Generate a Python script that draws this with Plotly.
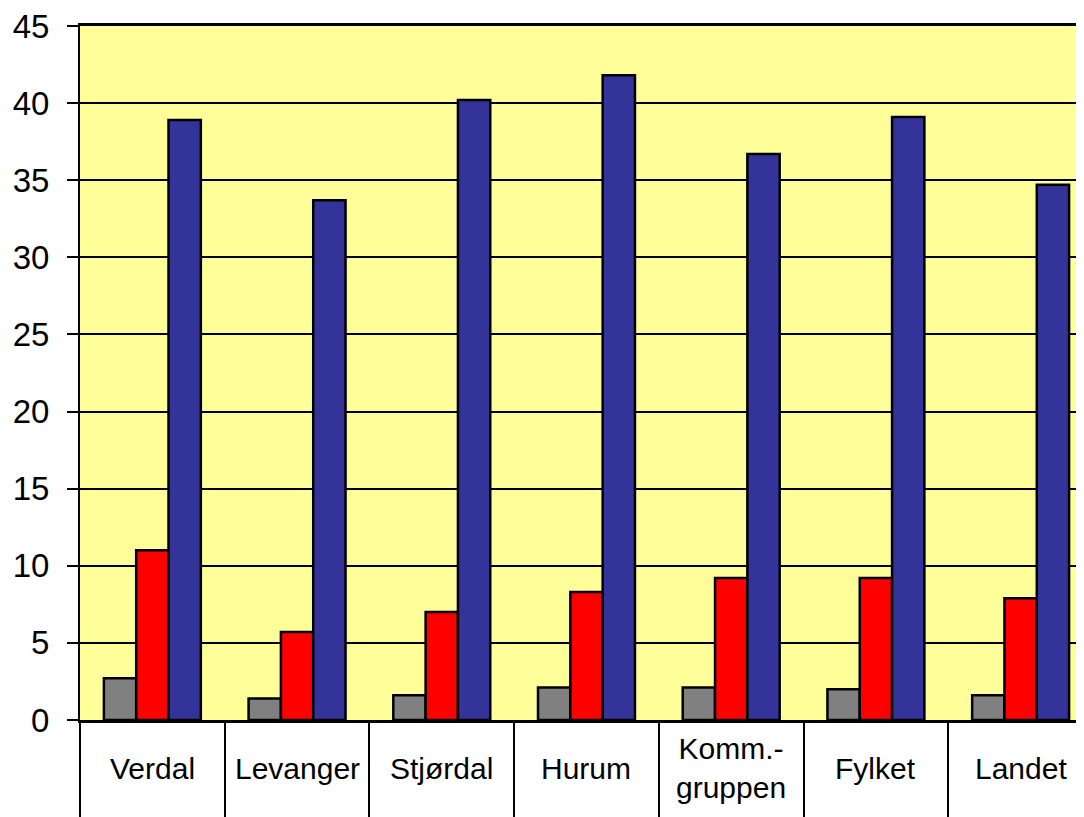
import plotly.graph_objects as go

categories = ["Verdal", "Levanger", "Stjørdal", "Hurum", "Komm.-<br>gruppen", "Fylket", "Landet"]
series_gray = [2.7, 1.4, 1.6, 2.1, 2.1, 2.0, 1.6]
series_red = [11.0, 5.7, 7.0, 8.3, 9.2, 9.2, 7.9]
series_blue = [38.9, 33.7, 40.2, 41.8, 36.7, 39.1, 34.7]
y_ticks = [0, 5, 10, 15, 20, 25, 30, 35, 40, 45]

FONT = "Arial, 'Liberation Sans', sans-serif"

fig = go.Figure()
for vals, col in [(series_gray, "#808080"), (series_red, "#FF0000"), (series_blue, "#333399")]:
    fig.add_trace(go.Bar(
        x=categories, y=vals,
        marker=dict(color=col, line=dict(color="black", width=2.5)),
        showlegend=False, hoverinfo="x+y",
    ))

for c in categories:
    fig.add_annotation(
        x=c, xref="x", y=-48 / 694, yref="paper",
        text=c, showarrow=False, yanchor="middle", xanchor="center",
        font=dict(family=FONT, size=30, color="black"),
    )

# page body has an 8px margin, so the figure is sized/offset to compensate
fig.update_layout(
    width=1076, height=809,
    margin=dict(l=72, r=0, t=18, b=97, pad=0),
    paper_bgcolor="white",
    plot_bgcolor="#FFFF99",
    barmode="group",
    bargap=0.33,
    bargroupgap=0,
    font=dict(family=FONT, color="black"),
)

fig.update_xaxes(
    type="category",
    range=[-0.5, 6.438],
    tickson="boundaries",
    ticks="outside", ticklen=97, tickwidth=2, tickcolor="black",
    showticklabels=False,
    showline=True, linewidth=3, linecolor="black",
    mirror=True,
    showgrid=False,
)

fig.update_yaxes(
    range=[0, 45],
    tickvals=y_ticks,
    ticktext=[str(v) for v in y_ticks],
    ticks="outside", ticklen=11, tickwidth=2, tickcolor="black",
    tickfont=dict(family=FONT, size=33, color="black"),
    ticklabelstandoff=11,
    ticklabeloverflow="allow",
    showline=True, linewidth=2, linecolor="black",
    showgrid=True, gridcolor="black", gridwidth=2,
    zeroline=False,
)

fig.write_html("out.html")
